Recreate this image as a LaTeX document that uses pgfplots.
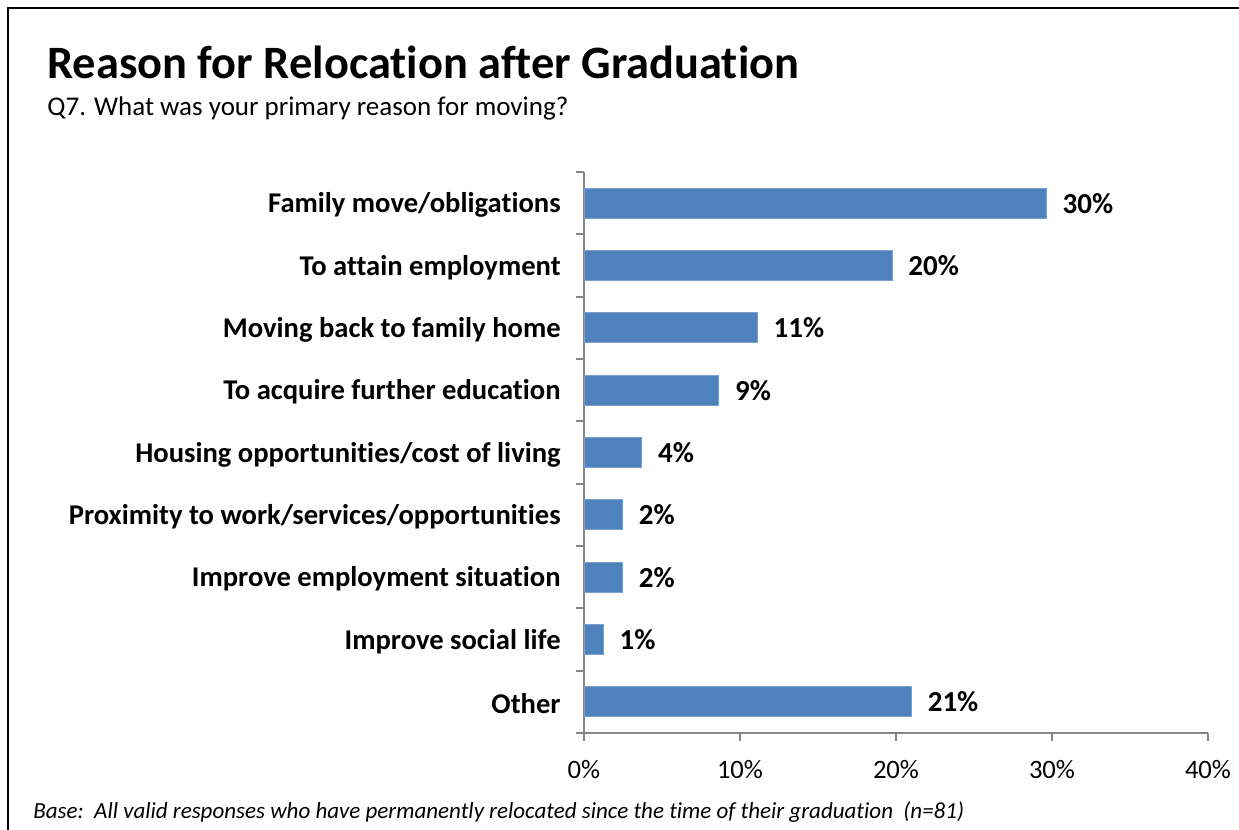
\documentclass[border=0pt]{standalone}
\usepackage{fontspec}
\setmainfont[Ligatures=NoCommon]{Carlito}
\usepackage{pgfplots}
\pgfplotsset{compat=1.18}
\definecolor{barblue}{HTML}{4F81BD}
\definecolor{axisgray}{HTML}{868686}
\begin{document}
\begin{tikzpicture}
\path[use as bounding box] (0,0) rectangle (619.5pt,-415pt);
% frame, title, subtitle and base note (1 unit = 1 px of the reference)
\begin{scope}[x=0.5pt,y=-0.5pt]
\draw[line width=1pt] (8,840) -- (8,8) -- (1250,8);
\node[anchor=base west, inner sep=0pt, font=\fontsize{23.2}{27}\selectfont\bfseries] at (47,78) {Reason for Relocation after Graduation};
\node[anchor=base west, inner sep=0pt, font=\fontsize{13.5}{16}\selectfont] at (47,115) {Q7. What was your primary reason for moving?};
\node[anchor=base west, inner sep=0pt, font=\fontsize{11.5}{13}\selectfont\itshape] at (33,818) {Base:\ \ All valid responses who have permanently relocated since the time of their graduation\ \ (n=81)};
\end{scope}
\begin{axis}[
    at={(292pt,-366.5pt)}, anchor=south west,
    scale only axis, width=312pt, height=280.5pt,
    xbar, bar width=15pt,
    xmin=0, xmax=40, ymin=-0.5, ymax=8.5,
    axis x line*=bottom, axis y line*=left,
    axis line style={axisgray, line width=1pt, -},
    tick align=outside, major tick length=4pt,
    xtick={0,10,20,30,40},
    xticklabel={\pgfmathprintnumber{\tick}\%},
    /pgf/number format/assume math mode=true,
    xtick style={draw=axisgray, line width=1pt},
    xticklabel style={font=\fontsize{13.3}{16}\selectfont, anchor=north, inner sep=0pt, yshift=-9.5pt},
    ytick={0,...,8},
    yticklabels={Other, Improve social life, Improve employment situation,
        Proximity to work/services/opportunities, Housing opportunities/cost of living,
        To acquire further education, Moving back to family home,
        To attain employment, Family move/obligations},
    ytick style={draw=none},
    yticklabel style={font=\fontsize{14.3}{17}\selectfont\bfseries, anchor=east, inner sep=0pt, xshift=-7.5pt, yshift=-1pt},
    extra y ticks={-0.5,0.5,...,8.5},
    extra y tick labels={},
    extra y tick style={ytick style={draw=axisgray, line width=1pt}},
    clip=false,
]
\addplot[fill=barblue, draw=barblue!75!white,
    nodes near coords, point meta=explicit symbolic,
    nodes near coords style={anchor=west, inner sep=0pt, xshift=8pt,
        font=\fontsize{14.5}{17}\selectfont\bfseries}]
    coordinates {
    (20.99,0) [21\%]
    (1.23,1) [1\%]
    (2.47,2) [2\%]
    (2.47,3) [2\%]
    (3.70,4) [4\%]
    (8.64,5) [9\%]
    (11.11,6) [11\%]
    (19.75,7) [20\%]
    (29.63,8) [30\%]
    };
\end{axis}
\end{tikzpicture}
\end{document}
